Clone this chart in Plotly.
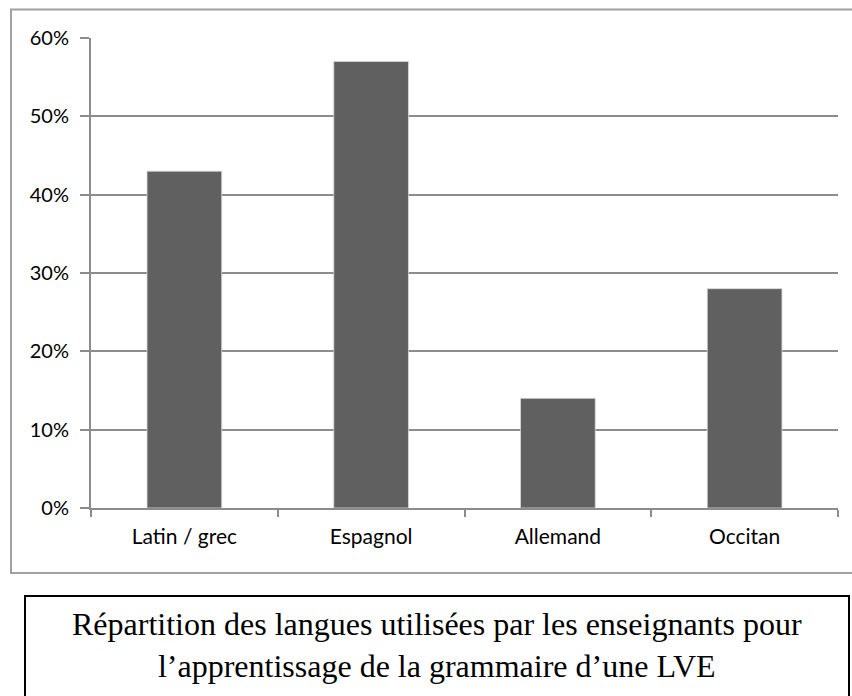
import plotly.graph_objects as go

categories = ["Latin / grec", "Espagnol", "Allemand", "Occitan"]
values = [0.43, 0.57, 0.14, 0.28]
y_ticks = [0, 0.1, 0.2, 0.3, 0.4, 0.5, 0.6]
y_tick_labels = ["0%", "10%", "20%", "30%", "40%", "50%", "60%"]
caption = "Répartition des langues utilisées par les enseignants pour<br>l’apprentissage de la grammaire d’une LVE"

W, H = 852, 696
# plot area in page pixels
L, R, T, B = 91, 838, 38, 508


def px(x):
    return (x - L) / (R - L)


def py(y):
    return (B - y) / (B - T)


fig = go.Figure()
fig.add_trace(go.Bar(
    x=categories, y=values,
    marker=dict(color="#606060", line=dict(color="#d8d8d8", width=0.8)),
    width=0.4,
))

fig.update_layout(
    width=W, height=H,
    margin=dict(l=L, r=W - R, t=T, b=H - B, pad=0),
    paper_bgcolor="white", plot_bgcolor="white",
    showlegend=False,
    bargap=0.6,
    font=dict(family="Lato, Open Sans, sans-serif", color="black"),
    xaxis=dict(
        type="category",
        showgrid=False,
        showline=True, linecolor="#8c8c8c", linewidth=2,
        ticks="outside", tickson="boundaries", ticklen=7, tickwidth=2, tickcolor="#8c8c8c",
        tickfont=dict(size=21, family="Lato, sans-serif", color="black"),
        ticklabelstandoff=9,
    ),
    yaxis=dict(
        range=[0, 0.6],
        tickvals=y_ticks, ticktext=y_tick_labels,
        showgrid=True, gridcolor="#8c8c8c", gridwidth=2,
        showline=True, linecolor="#8c8c8c", linewidth=2,
        ticks="outside", ticklen=9, tickwidth=2, tickcolor="#8c8c8c",
        tickfont=dict(size=20, family="Lato, sans-serif", color="black"),
        zeroline=False,
        ticklabelstandoff=7,
    ),
    shapes=[
        dict(type="rect", xref="paper", yref="paper",
             x0=px(11), x1=px(870), y0=py(573), y1=py(9.5),
             line=dict(color="#a0a0a0", width=2), fillcolor="rgba(0,0,0,0)", layer="below"),
        dict(type="rect", xref="paper", yref="paper",
             x0=px(25), x1=px(849), y0=py(720), y1=py(596),
             line=dict(color="black", width=2), fillcolor="rgba(0,0,0,0)"),
    ],
    annotations=[
        dict(text=caption, xref="paper", yref="paper",
             x=px(437), y=py(645), xanchor="center", yanchor="middle",
             showarrow=False,
             font=dict(family="Liberation Serif, Times New Roman, serif", size=32, color="black"),
             align="center"),
    ],
)

fig.write_html(
    "out.html",
    config={"displayModeBar": False},
    post_script="document.body.style.margin='0';document.body.style.overflow='hidden';",
)
